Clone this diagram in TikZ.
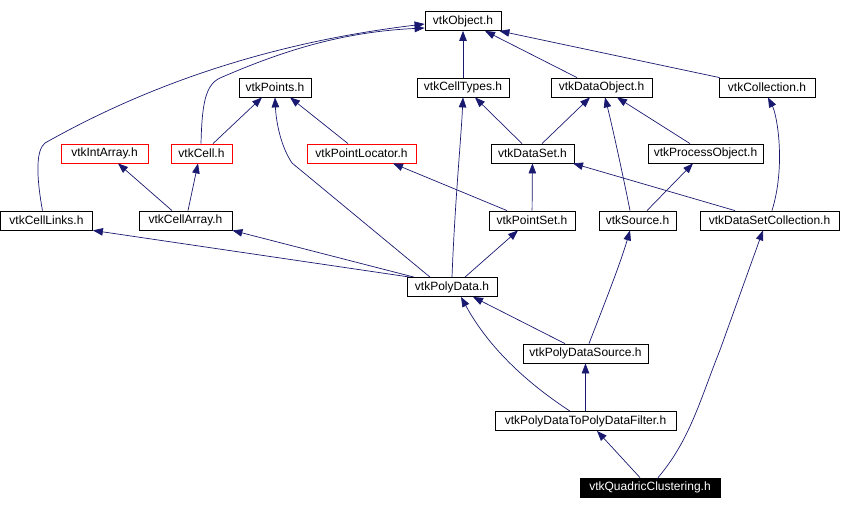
\documentclass[tikz,border=0pt]{standalone}
\usepackage{fontspec}
\setmainfont{Liberation Sans}
\usepackage{tikz}
\usetikzlibrary{arrows.meta}
\definecolor{edgeblue}{RGB}{25,25,112}
\tikzset{
  hbox/.style={draw, line width=0.8pt, inner sep=0pt, minimum height=19pt,
               font=\fontsize{12pt}{13pt}\selectfont, fill=white},
  redbox/.style={hbox, draw=red},
  mainbox/.style={hbox, fill=black, text=white},
  dep/.style={-{Triangle[length=10pt,width=7.5pt]}, edgeblue, line width=0.7pt},
}
\begin{document}
\begin{tikzpicture}[x=1pt, y=-1pt]
  \useasboundingbox (0,0) rectangle (841,509);
  \node[hbox, minimum width=76pt] (obj) at (463,21) {vtkObject.h};
  \node[hbox, minimum width=72pt] (points) at (275,87.5) {vtkPoints.h};
  \node[hbox, minimum width=92pt] (celltypes) at (463,87.5) {vtkCellTypes.h};
  \node[hbox, minimum width=101pt] (dataobj) at (601.5,87.5) {vtkDataObject.h};
  \node[hbox, minimum width=96pt] (coll) at (767,87.5) {vtkCollection.h};
  \node[redbox, minimum width=87pt] (intarr) at (104.5,153.5) {vtkIntArray.h};
  \node[redbox, minimum width=61pt] (cell) at (201.5,153.5) {vtkCell.h};
  \node[redbox, minimum width=109pt] (ploc) at (361.5,153.5) {vtkPointLocator.h};
  \node[hbox, minimum width=83pt] (dataset) at (532.5,153.5) {vtkDataSet.h};
  \node[hbox, minimum width=115pt] (procobj) at (705.5,153.5) {vtkProcessObject.h};
  \node[hbox, minimum width=92pt] (celllinks) at (46.5,220.5) {vtkCellLinks.h};
  \node[hbox, minimum width=93pt] (cellarr) at (185.5,220.5) {vtkCellArray.h};
  \node[hbox, minimum width=86pt] (pointset) at (532,220.5) {vtkPointSet.h};
  \node[hbox, minimum width=77pt] (source) at (637.5,220.5) {vtkSource.h};
  \node[hbox, minimum width=139pt] (dscoll) at (769.5,220.5) {vtkDataSetCollection.h};
  \node[hbox, minimum width=90pt] (polydata) at (452,287) {vtkPolyData.h};
  \node[hbox, minimum width=125pt] (pdsource) at (585.5,353.5) {vtkPolyDataSource.h};
  \node[hbox, minimum width=181pt] (pdfilter) at (585.5,421) {vtkPolyDataToPolyDataFilter.h};
  \node[mainbox, minimum width=140pt] (quadric) at (650,487.5) {vtkQuadricClustering.h};

  \draw[dep] ([xshift=-4pt]celllinks.north) .. controls (36,175) and (36,150) .. (45,143)
    .. controls (130,95) and (250,45) .. ([yshift=-3pt]obj.west);
  \draw[dep] ([xshift=-0.5pt]cell.north) .. controls (202,105) and (205,85) .. (220,78)
    .. controls (280,52) and (340,32) .. ([yshift=-7pt]obj.west);
  \draw[dep] (celltypes) -- (obj);
  \draw[dep] ([xshift=-24.5pt]dataobj.north) -- ([xshift=22pt]obj.south);
  \draw[dep] ([xshift=1pt]coll.north west) -- ([xshift=-2pt]obj.south east);
  \draw[dep] ([xshift=11.5pt]cell.north) -- ([xshift=-13pt]points.south);
  \draw[dep] ([xshift=-13.5pt]ploc.north) -- ([xshift=15pt]points.south);
  \draw[dep] ([xshift=-22pt]polydata.north) -- (292,163)
    .. controls (280,145) and (276,120) .. (points.south);
  \draw[dep] ([xshift=-10.5pt]dataset.north) -- ([xshift=12pt]celltypes.south);
  \draw[dep] ([xshift=9.5pt]dataset.north) -- ([xshift=-11.5pt]dataobj.south);
  \draw[dep] ([xshift=-7.5pt]source.north) .. controls (624,180) and (612,125) .. ([xshift=3.5pt]dataobj.south);
  \draw[dep] ([xshift=-15.5pt]procobj.north) -- ([xshift=15.5pt]dataobj.south);
  \draw[dep] ([xshift=2.5pt]dscoll.north) .. controls (786,165) and (777,115) .. ([xshift=1pt]coll.south);
  \draw[dep] ([xshift=-13.5pt]cellarr.north) -- ([xshift=13.5pt]intarr.south);
  \draw[dep] ([xshift=2.5pt]cellarr.north) -- ([xshift=-3.5pt]cell.south);
  \draw[dep] (pointset) -- (dataset);
  \draw[dep] ([xshift=-25pt]pointset.north) -- ([xshift=31.5pt]ploc.south);
  \draw[dep] ([xshift=-34.5pt]dscoll.north) -- ([xshift=40.5pt]dataset.south);
  \draw[dep] ([xshift=9.5pt]source.north) -- ([xshift=-12.5pt]procobj.south);
  \draw[dep] ([xshift=-42pt]polydata.north) -- (celllinks.south east);
  \draw[dep] ([xshift=-38pt]polydata.north) -- (cellarr.south east);
  \draw[dep] (polydata.north) .. controls (455,200) and (461,140) .. (celltypes.south);
  \draw[dep] ([xshift=13pt]polydata.north) -- ([xshift=-14pt]pointset.south);
  \draw[dep] ([xshift=-20.5pt]pdsource.north) -- ([xshift=21pt]polydata.south);
  \draw[dep] ([xshift=3.5pt]pdsource.north) .. controls (600,315) and (620,265) .. ([xshift=-7.5pt]source.south);
  \draw[dep] ([xshift=-15.5pt]pdfilter.north) .. controls (530,385) and (490,350) .. ([xshift=9pt]polydata.south);
  \draw[dep] (pdfilter) -- (pdsource);
  \draw[dep] ([xshift=-10pt]quadric.north) -- ([xshift=11.5pt]pdfilter.south);
  \draw[dep] ([xshift=8pt]quadric.north) .. controls (690,440) and (700,400) .. (720,350)
    -- ([xshift=-6.5pt]dscoll.south);
\end{tikzpicture}
\end{document}
